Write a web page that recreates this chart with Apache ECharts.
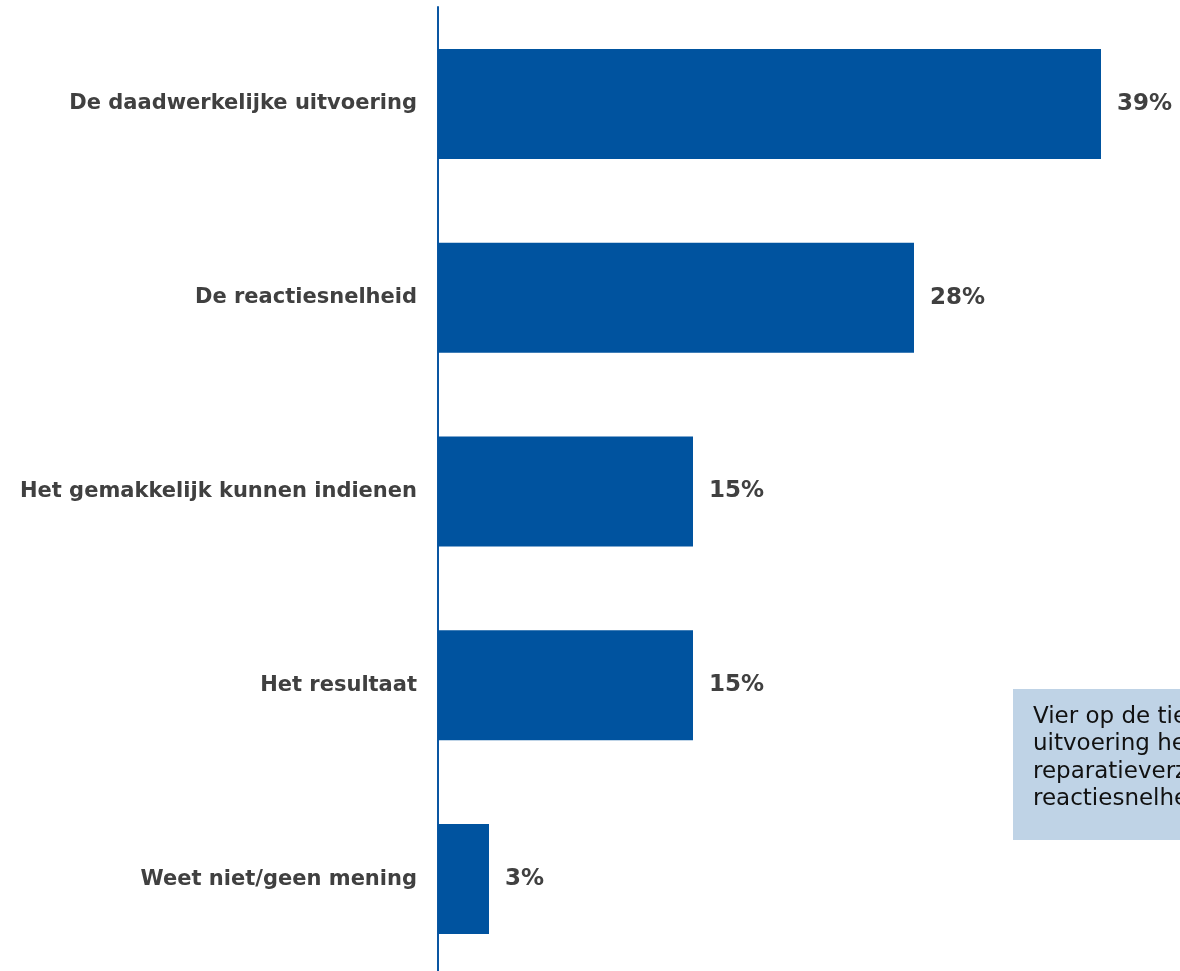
<!DOCTYPE html>
<html>
<head>
<meta charset="utf-8">
<script src="https://cdn.jsdelivr.net/npm/echarts@6/dist/echarts.min.js"></script>
<style>
  html, body { margin: 0; padding: 0; background: #ffffff; overflow: hidden; }
  #chart { width: 1180px; height: 976px; }
</style>
</head>
<body>
<div id="chart"></div>
<script>
// Aspects rated most important, top to bottom
const categories = [
  'De daadwerkelijke uitvoering',
  'De reactiesnelheid',
  'Het gemakkelijk kunnen indienen',
  'Het resultaat',
  'Weet niet/geen mening'
];
const values = [39, 28, 15, 15, 3];
const noteLines = [
  'Vier op de tien vinden de daadwerkelijke',
  'uitvoering het belangrijkst bij een',
  'reparatieverzoek, gevolgd door de',
  'reactiesnelheid.'
];

const chart = echarts.init(document.getElementById('chart'), null, { renderer: 'canvas' });

chart.setOption({
  animation: false,
  textStyle: { fontFamily: 'DejaVu Sans' },
  grid: { left: 438, width: 680, top: 7, bottom: 0, containLabel: false },
  xAxis: {
    type: 'value',
    min: 0,
    max: 40,
    show: false
  },
  yAxis: {
    type: 'category',
    data: categories,
    inverse: true,
    axisLine: { show: true, lineStyle: { color: '#0a56a2', width: 2 } },
    axisTick: { show: false },
    axisLabel: {
      margin: 21,
      color: '#404040',
      fontSize: 21,
      fontWeight: 'bold',
      fontFamily: 'DejaVu Sans'
    }
  },
  series: [{
    type: 'bar',
    data: values,
    barWidth: 110,
    itemStyle: { color: '#00539f' },
    label: {
      show: true,
      position: 'right',
      distance: 16,
      formatter: '{c}%',
      color: '#404040',
      fontSize: 23,
      fontWeight: 'bold',
      fontFamily: 'DejaVu Sans'
    }
  }],
  graphic: [{
    type: 'group',
    left: 1013,
    top: 689,
    children: [{
      type: 'rect',
      shape: { x: 0, y: 0, width: 420, height: 151 },
      style: { fill: '#bfd3e6' }
    }, {
      type: 'text',
      x: 20,
      y: 14,
      style: {
        text: noteLines.join('\n'),
        fill: '#111111',
        font: '23px "DejaVu Sans"',
        lineHeight: 27.5
      }
    }]
  }]
});
</script>
</body>
</html>
